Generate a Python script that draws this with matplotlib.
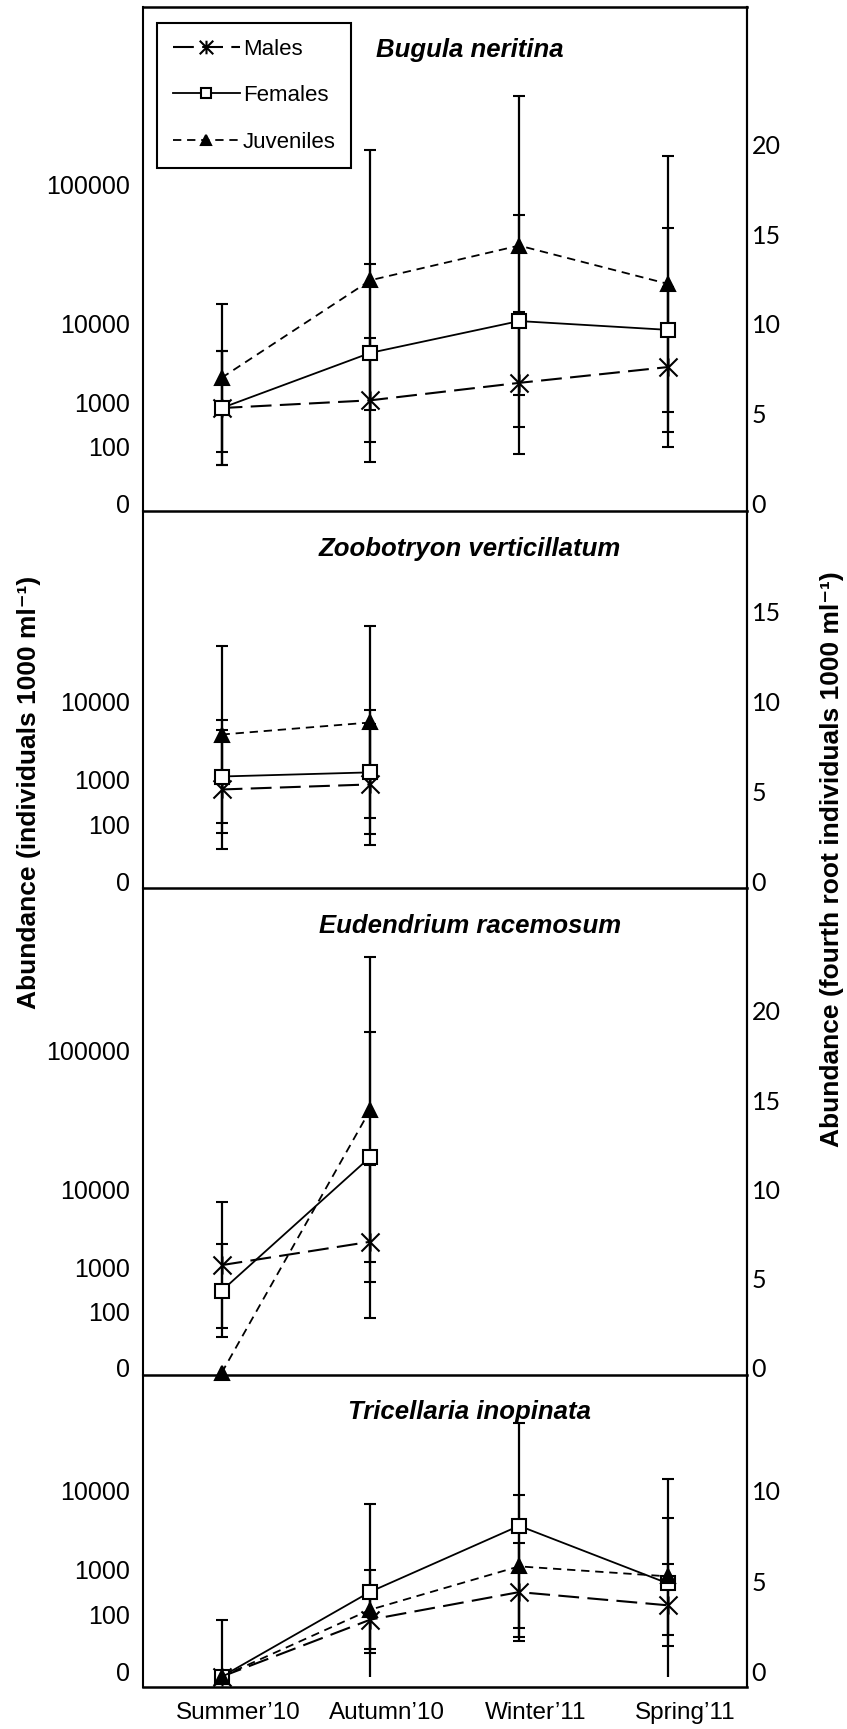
import numpy as np
import matplotlib
matplotlib.use("Agg")
import matplotlib.pyplot as plt
from matplotlib.path import Path
from matplotlib.patches import Rectangle
from matplotlib.transforms import ScaledTranslation

plt.rcParams["font.family"] = ["Liberation Sans", "DejaVu Sans"]

seasons = ["Summer’10", "Autumn’10", "Winter’11", "Spring’11"]
species = ["Bugula neritina", "Zoobotryon verticillatum",
           "Eudendrium racemosum", "Tricellaria inopinata"]

nan = np.nan
# fourth root abundance (mean, error) per panel, nan = no sample
males_mean = [
    [5.6, 6.03, 7.0, 7.88],
    [5.37, 5.65, nan, nan],
    [6.04, 7.35, nan, nan],
    [0.0, 3.15, 4.67, 3.94],
]
males_err = [
    [3.16, 3.44, 3.94, 4.45],
    [3.3, 3.34, nan, nan],
    [3.52, 4.27, nan, nan],
    [0.0, 1.85, 2.69, 2.27],
]
females_mean = [
    [5.6, 8.67, 10.44, 9.95],
    [6.09, 6.32, nan, nan],
    [4.6, 12.1, nan, nan],
    [0.0, 4.69, 8.33, 5.15],
]
females_err = [
    [3.16, 4.97, 5.9, 5.69],
    [3.13, 3.45, nan, nan],
    [2.61, 7.0, nan, nan],
    [3.11, 4.85, 5.65, 5.74],
]
juveniles_mean = [
    [7.28, 12.71, 14.64, 12.51],
    [8.42, 9.09, nan, nan],
    [0.0, 14.75, nan, nan],
    [0.0, 3.7, 6.09, 5.54],
]
juveniles_err = [
    [4.13, 7.24, 8.34, 7.14],
    [4.91, 5.33, nan, nan],
    [0.0, 8.55, nan, nan],
    [0.0, 2.19, 3.92, 3.22],
]

# left axis labels (raw abundance), right axis ticks (fourth root)
left_labels = [
    [0, 100, 1000, 10000, 100000],
    [0, 100, 1000, 10000],
    [0, 100, 1000, 10000, 100000],
    [0, 100, 1000, 10000],
]
right_ticks = [[0, 5, 10, 15, 20], [0, 5, 10, 15], [0, 5, 10, 15, 20], [0, 5, 10]]

# layout
y_limits = [(-0.13, 27.93), (-0.09, 20.83), (-0.1, 27.17), (-0.55, 16.67)]
panel_px = [504, 376.6, 486.7, 311.7]
title_drop = [43, 38, 38, 37]

fig = plt.figure(figsize=(8.47, 17.29), dpi=100)
gs = fig.add_gridspec(4, 1, height_ratios=panel_px, hspace=0,
                      left=0.1694, right=0.8816, top=0.9961, bottom=0.0245)

# Excel style star: X with a vertical bar
star = Path([(-1, -1), (1, 1), (-1, 1), (1, -1), (0, -1), (0, 1)],
            [Path.MOVETO, Path.LINETO] * 3)

series = [
    ("Males", males_mean, males_err,
     dict(marker=star, ms=13, ls=(0, (10, 4)), lw=1.5, mfc="none")),
    ("Females", females_mean, females_err,
     dict(marker="s", ms=10, ls="-", lw=1.3, mfc="white")),
    ("Juveniles", juveniles_mean, juveniles_err,
     dict(marker="^", ms=10, ls=(0, (4.6, 3.2)), lw=1.3, mfc="black")),
]

x = np.arange(len(seasons))
lift = ScaledTranslation(0, 0.05, fig.dpi_scale_trans)
shift = ScaledTranslation(0.17, 0, fig.dpi_scale_trans)

axes = []
for i in range(4):
    ax = fig.add_subplot(gs[i])
    ax.patch.set_visible(False)  # so markers on the panel edge are not hidden
    axes.append(ax)
    ax.set_xlim(-0.525, 3.53)
    ax.set_ylim(*y_limits[i])

    # error bars are cut at zero, like the original
    clip = Rectangle((-1, 0), 6, 100, transform=ax.transData)
    for k, (name, means, errs, style) in enumerate(series):
        m = np.array(means[i], dtype=float)
        e = np.array(errs[i], dtype=float)
        e = np.where(e > 0, e, np.nan)
        eb = ax.errorbar(x, m, yerr=e, fmt="none", ecolor="black",
                         elinewidth=1.6, capsize=4.6, capthick=1.5, zorder=2)
        for art in list(eb.lines[1]) + list(eb.lines[2]):
            art.set_clip_path(clip)
        ax.plot(x, m, color="black", mec="black", mew=1.5, label=name,
                zorder=3 + k, clip_on=False, **style)

    ax.set_yticks([v ** 0.25 for v in left_labels[i]])
    ax.set_yticklabels([str(v) for v in left_labels[i]])
    ax.tick_params(axis="y", length=0, pad=10, labelsize=18)
    for lab in ax.get_yticklabels():
        lab.set_transform(lab.get_transform() + lift)

    ax.set_xticks(x)
    if i == 3:
        ax.set_xticklabels(seasons)
        ax.tick_params(axis="x", length=0, pad=11, labelsize=17.5)
        for lab in ax.get_xticklabels():
            lab.set_transform(lab.get_transform() + shift)
    else:
        ax.tick_params(axis="x", length=0, labelbottom=False)

    for side in ["left", "right"]:
        ax.spines[side].set_linewidth(1.5)
    ax.spines["bottom"].set_linewidth(1.8)
    ax.spines["top"].set_linewidth(1.8)
    ax.spines["top"].set_visible(i == 0)

    ax2 = ax.twinx()
    ax2.set_ylim(*y_limits[i])
    ax2.set_yticks(right_ticks[i])
    ax2.tick_params(axis="y", length=0, pad=3.6, labelsize=18)
    for side in ["left", "top", "bottom"]:
        ax2.spines[side].set_visible(False)
    ax2.spines["right"].set_linewidth(1.5)
    for lab in ax2.get_yticklabels():
        lab.set_fontfamily(["Lato", "DejaVu Sans"])
        lab.set_transform(lab.get_transform() + lift)

    ax.annotate(species[i], xy=(0.541, 1), xycoords="axes fraction",
                xytext=(0, -title_drop[i]), textcoords="offset pixels",
                ha="center", va="center", fontsize=18.5,
                fontweight="bold", fontstyle="italic")

leg = axes[0].legend(loc="upper left", bbox_to_anchor=(0.023, 0.967),
                     borderaxespad=0, fancybox=False, edgecolor="black",
                     framealpha=1, fontsize=16, handlelength=3.0,
                     handletextpad=0.15, labelspacing=1.14, borderpad=0.7,
                     markerscale=0.75, numpoints=1)
leg.get_frame().set_linewidth(1.5)

fig.text(0.0348, 0.542, "Abundance (individuals 1000 ml⁻¹)", rotation=90,
         ha="center", va="center", fontsize=19, fontweight="bold")
fig.text(0.9823, 0.503, "Abundance (fourth root individuals 1000 ml⁻¹)",
         rotation=90, ha="center", va="center", fontsize=19, fontweight="bold")

fig.savefig("out.png", dpi=100, facecolor="white")
